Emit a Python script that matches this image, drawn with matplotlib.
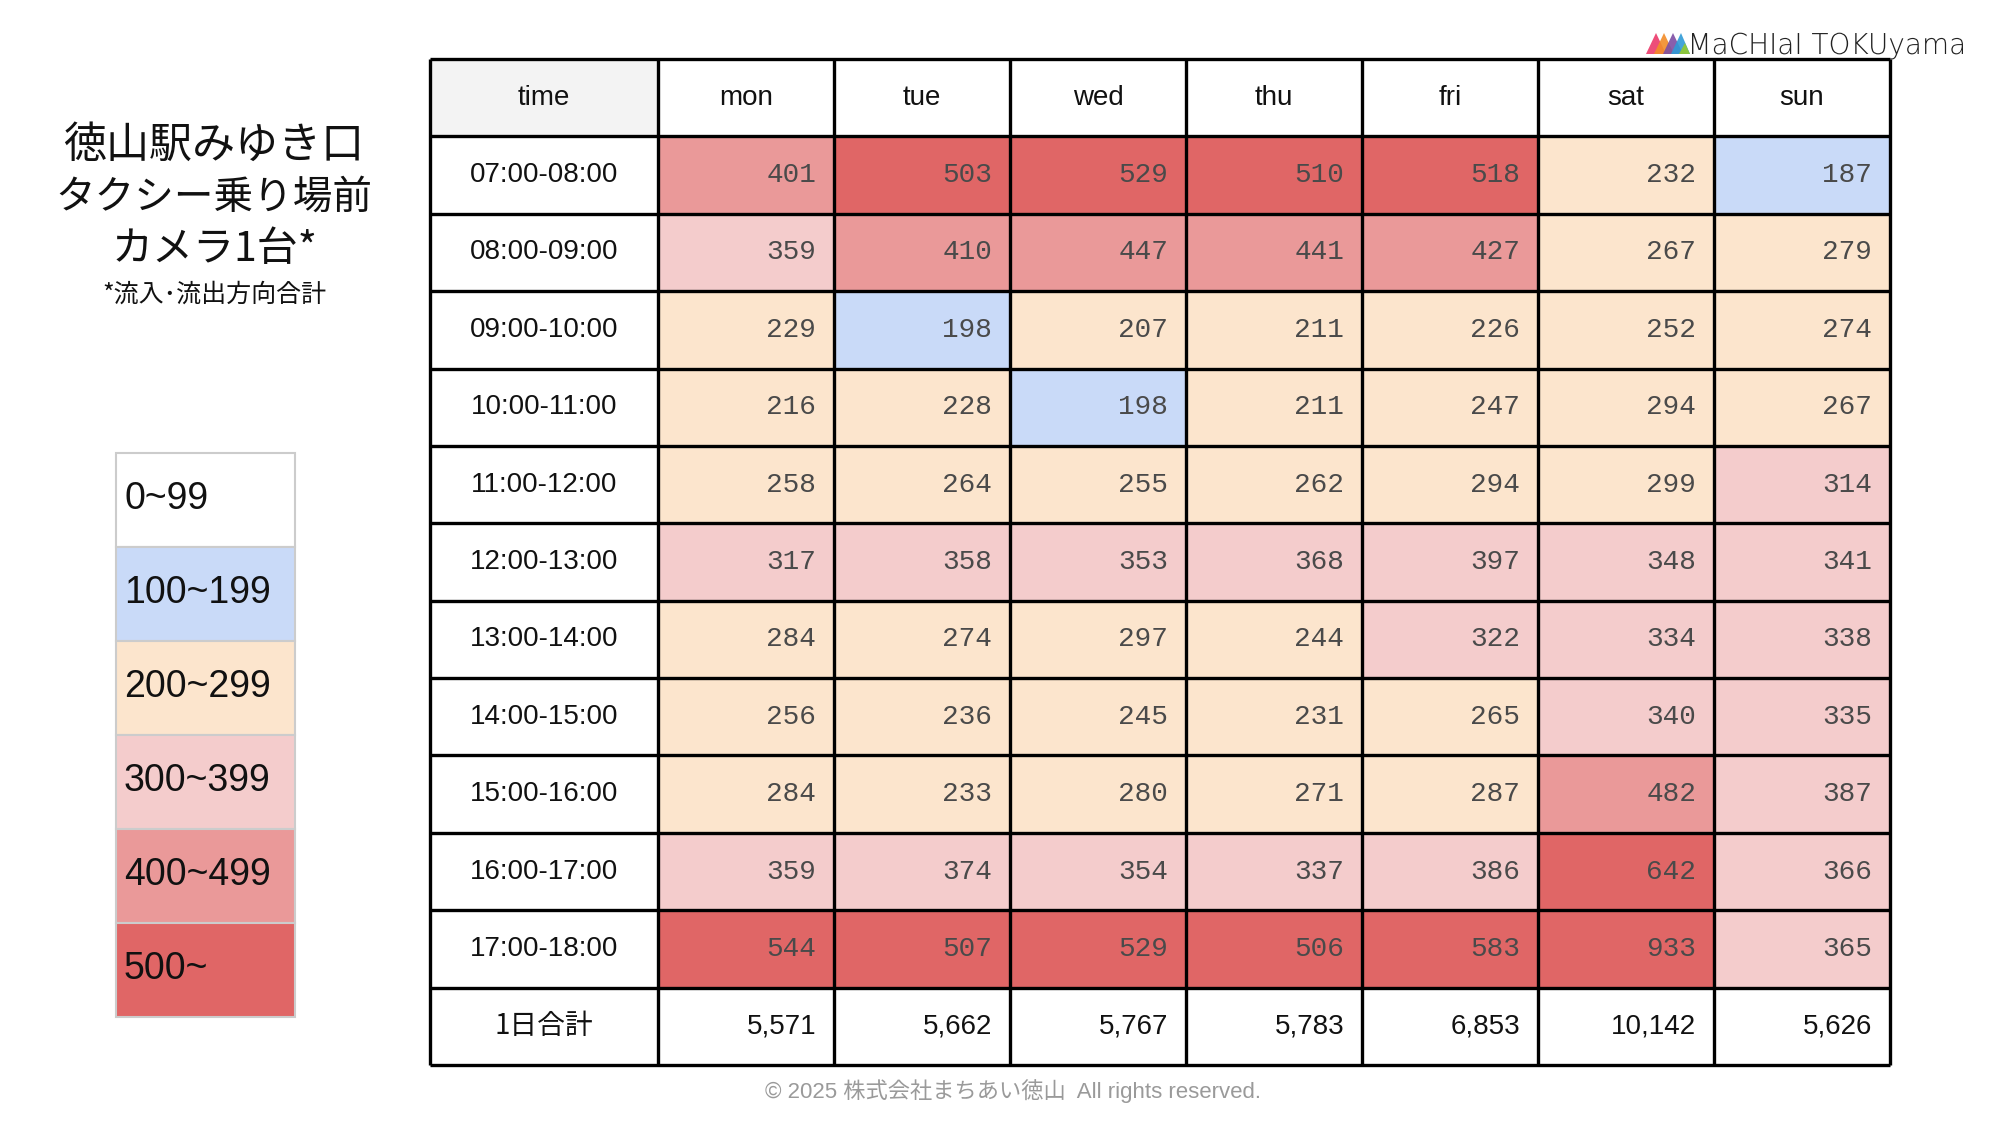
import numpy as np
import matplotlib.pyplot as plt
from matplotlib.colors import ListedColormap, BoundaryNorm
from matplotlib.patches import Rectangle, Polygon, PathPatch
from matplotlib.textpath import TextPath
from matplotlib.font_manager import FontProperties
from matplotlib.transforms import Affine2D

# ---- data ----
times = ["07:00-08:00", "08:00-09:00", "09:00-10:00", "10:00-11:00",
         "11:00-12:00", "12:00-13:00", "13:00-14:00", "14:00-15:00",
         "15:00-16:00", "16:00-17:00", "17:00-18:00"]
days = ["mon", "tue", "wed", "thu", "fri", "sat", "sun"]
mon = [401, 359, 229, 216, 258, 317, 284, 256, 284, 359, 544]
tue = [503, 410, 198, 228, 264, 358, 274, 236, 233, 374, 507]
wed = [529, 447, 207, 198, 255, 353, 297, 245, 280, 354, 529]
thu = [510, 441, 211, 211, 262, 368, 244, 231, 271, 337, 506]
fri = [518, 427, 226, 247, 294, 397, 322, 265, 287, 386, 583]
sat = [232, 267, 252, 294, 299, 348, 334, 340, 482, 642, 933]
sun = [187, 279, 274, 267, 314, 341, 338, 335, 387, 366, 365]
totals = [5571, 5662, 5767, 5783, 6853, 10142, 5626]
total_label = "1日合計"

bins = [0, 100, 200, 300, 400, 500, 10000]
bin_labels = ["0~99", "100~199", "200~299", "300~399", "400~499", "500~"]
bin_colors = ["#ffffff", "#c9daf8", "#fce5cd", "#f4cccc", "#ea9999", "#e06666"]

title_lines = ["徳山駅みゆき口", "タクシー乗り場前", "カメラ1台*"]
subtitle = "*流入･流出方向合計"
footer = "© 2025 株式会社まちあい徳山  All rights reserved."
logo_text = "MaCHIaI TOKUyama"

values = np.array([mon, tue, wed, thu, fri, sat, sun]).T
cmap = ListedColormap(bin_colors)
norm = BoundaryNorm(bins, cmap.N)

W, H = 2000, 1125
fig = plt.figure(figsize=(20, 11.25), dpi=100)

# page axes in pixel units
page = fig.add_axes([0, 0, 1, 1])
page.set_xlim(0, W)
page.set_ylim(H, 0)
page.axis("off")

jp = ["Noto Sans CJK JP", "DejaVu Sans"]
sans = ["Liberation Sans", "Noto Sans CJK JP"]

# title block (kana lines a bit smaller: the original font is proportional)
title_sizes = [31, 28.5, 29.5]
for i, line in enumerate(title_lines):
    page.text(214, 146 + i * 52, line, ha="center", va="center",
              fontsize=title_sizes[i], family=jp, color="#111")
page.text(214, 295, subtitle, ha="center", va="center",
          fontsize=18, family=jp, color="#111")

# legend
lx, ly, lw, lh = 116, 453, 179, 94
for i, lab in enumerate(bin_labels):
    page.add_patch(Rectangle((lx, ly + i * lh), lw, lh,
                             facecolor=cmap(norm(bins[i])),
                             edgecolor="#cccccc", lw=1.5))
    page.text(lx + 8, ly + i * lh + lh / 2 - 1, lab, ha="left", va="center",
              fontsize=27, family=sans, color="#111")

# logo
tri = [((1646, 54), (1656, 33), (1666, 54), "#ec3a6a"),
       ((1654, 54), (1664, 33), (1674, 54), "#f28c28"),
       ((1663, 54), (1673, 33), (1683, 54), "#7d4ea3"),
       ((1671, 54), (1681, 33), (1690, 54), "#2f9ad6")]
for a, b, c, col in tri:
    page.add_patch(Polygon([a, b, c], closed=True, facecolor=col,
                           edgecolor="none", alpha=0.9))
page.add_patch(Polygon([(1679, 54), (1685, 43), (1690, 54)], closed=True,
                       facecolor="#8cc63f", edgecolor="none"))
tp = TextPath((0, 0), logo_text, size=100,
              prop=FontProperties(family="DejaVu Sans", weight="light"))
bb = tp.get_extents()
sx = 271 / bb.width
sy = 21 / 73.0
trans = Affine2D().translate(-bb.x0, 0).scale(sx, -sy).translate(1692, 54)
page.add_patch(PathPatch(trans.transform_path(tp), facecolor="#222",
                         edgecolor="none"))

# footer
page.text(1013, 1091, footer, ha="center", va="center", fontsize=16,
          family=sans, color="#9a9a9a")

# ---- table ----
tx0, tx1, ty0, ty1 = 430, 1890, 59, 1065
tab = fig.add_axes([tx0 / W, 1 - ty1 / H, (tx1 - tx0) / W, (ty1 - ty0) / H])
time_w = 228
day_w = (tx1 - tx0 - time_w) / len(days)
x_edges = np.concatenate([[0], time_w + day_w * np.arange(len(days) + 1)])
n_rows = len(times) + 2
y_edges = np.arange(n_rows + 1)
tab.set_xlim(0, x_edges[-1])
tab.set_ylim(n_rows, 0)
tab.axis("off")

# coloured data cells
tab.pcolormesh(x_edges[1:], y_edges[1:len(times) + 2], values,
               cmap=cmap, norm=norm, shading="flat")
# header time cell
tab.add_patch(Rectangle((0, 0), time_w, 1, facecolor="#f3f3f3",
                        edgecolor="none"))

tab.text(time_w / 2, 0.5, "time", ha="center", va="center",
         fontsize=20, family=sans, color="#111")
for j, d in enumerate(days):
    cx = (x_edges[j + 1] + x_edges[j + 2]) / 2
    tab.text(cx, 0.5, d, ha="center", va="center", fontsize=20,
             family=sans, color="#111")

for i, t in enumerate(times):
    tab.text(time_w / 2, i + 1.5, t, ha="center", va="center",
             fontsize=20, family=sans, color="#111")
    for j in range(len(days)):
        tab.text(x_edges[j + 2] - 18, i + 1.5, str(values[i, j]),
                 ha="right", va="center", fontsize=20,
                 family=["Liberation Mono"], color="#4a4a4a")

tab.text(time_w / 2, n_rows - 0.5, total_label, ha="center", va="center",
         fontsize=20, family=jp, color="#111")
for j, v in enumerate(totals):
    tab.text(x_edges[j + 2] - 18, n_rows - 0.5, f"{v:,}", ha="right",
             va="center", fontsize=20, family=sans, color="#111")

# grid lines
tab.hlines(y_edges, 0, x_edges[-1], colors="black", lw=2.4, clip_on=False)
tab.vlines(x_edges, 0, n_rows, colors="black", lw=2.4, clip_on=False)

fig.savefig("out.png", dpi=100)
